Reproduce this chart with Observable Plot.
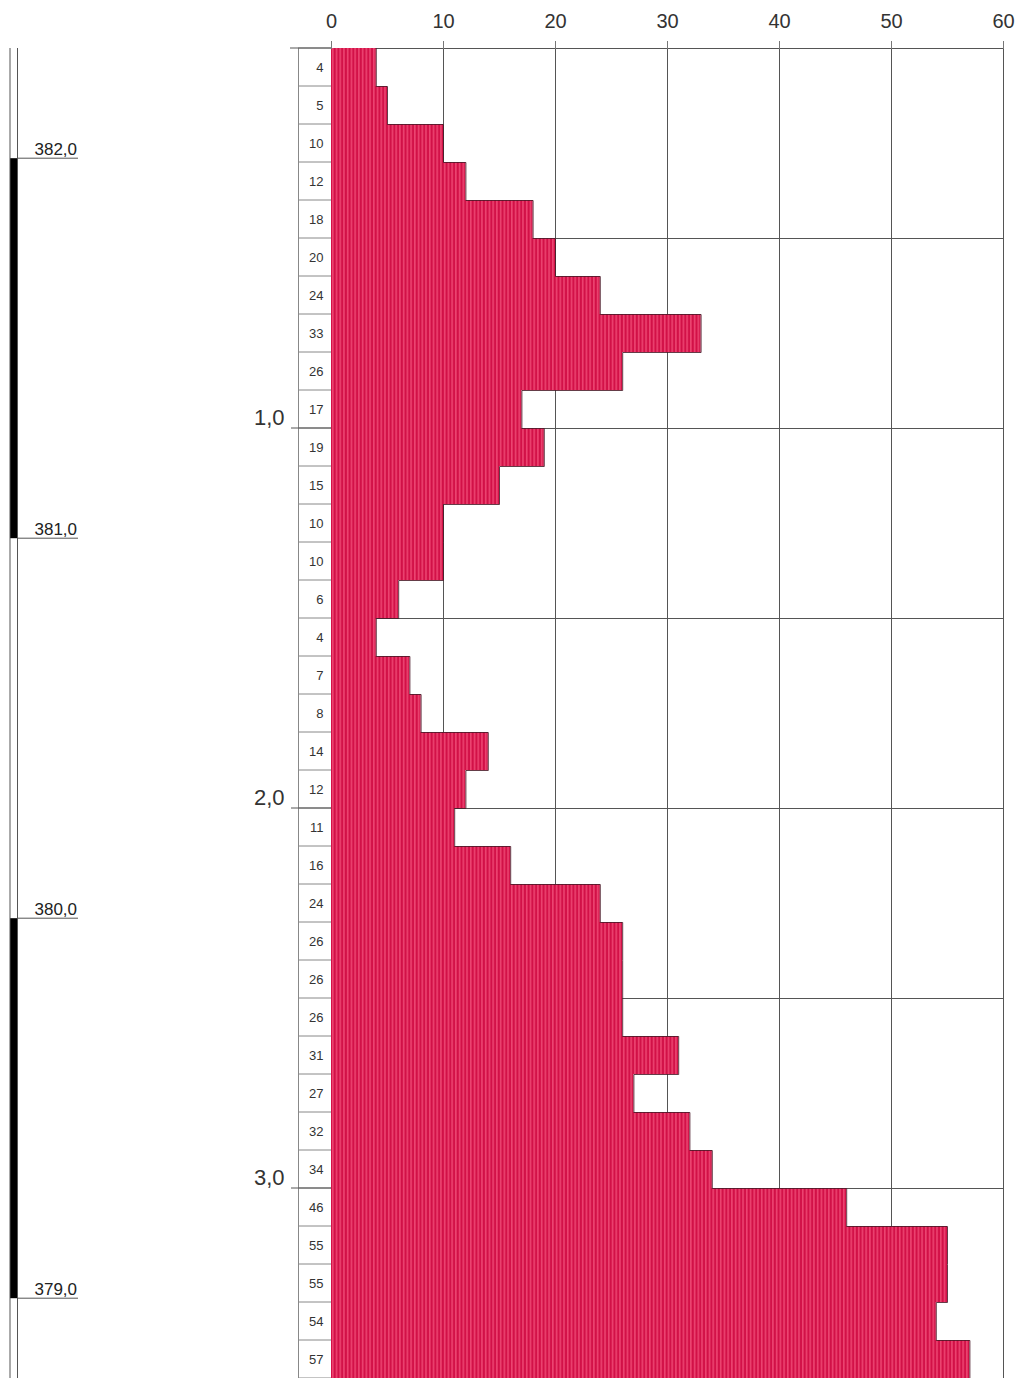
<!DOCTYPE html>
<html><head><meta charset="utf-8">
<script src="https://cdn.jsdelivr.net/npm/d3@7"></script>
<script src="https://cdn.jsdelivr.net/npm/@observablehq/plot@0.6"></script>
<style>
  html,body{margin:0;padding:0;background:#fff}
  #chart svg{display:block}
</style>
</head><body><div id="chart"></div>
<script>
// ---- data ----
const counts = [4,5,10,12,18,20,24,33,26,17,19,15,10,10,6,4,7,8,14,12,11,16,24,26,26,26,31,27,32,34,46,55,55,54,57];
const rowThickness = 0.1;               // metres per row
const xTicks = [0,10,20,30,40,50,60];
const gridDepths = [0.5,1.0,1.5,2.0,2.5,3.0];
const depthTicks = [1.0,2.0,3.0];
const depthTickLabels = ["1,0","2,0","3,0"];
const elevTicks = [382.0,381.0,380.0,379.0];
const elevTickLabels = ["382,0","381,0","380,0","379,0"];
const topElevation = 382.29;            // estimated ground elevation
const blackBands = [[382.0,381.0],[380.0,379.0]];

// ---- derived tables ----
const totalDepth = counts.length * rowThickness;
const rows = counts.map((v,i)=>({value:v, top:i*rowThickness, bottom:(i+1)*rowThickness, mid:(i+0.5)*rowThickness}));
const outline = rows.flatMap(r=>[{x:r.value,y:r.top},{x:r.value,y:r.bottom}]);
const rowBounds = d3.range(counts.length+1).map(i=>i*rowThickness);
const elevRows = elevTicks.map((e,i)=>({depth: topElevation - e, label: elevTickLabels[i]}));
const depthRows = depthTicks.map((d,i)=>({depth:d, label:depthTickLabels[i]}));

const FONT = "Liberation Sans, Arial, Helvetica, sans-serif";

// pattern definitions (vertical stripes)
function stripeDefs(){
  const defs = d3.create("svg:defs");
  const p = defs.append("pattern").attr("id","stripes")
    .attr("patternUnits","userSpaceOnUse").attr("width",3.73).attr("height",20);
  p.append("rect").attr("width",3.73).attr("height",20).attr("fill","#e2124c");
  p.append("rect").attr("x",0.4).attr("width",0.9).attr("height",20).attr("fill","#f06a8c");
  p.append("rect").attr("x",2.4).attr("width",0.7).attr("height",20).attr("fill","#b80e40");
  return defs.node();
}

// left-side decorations: elevation bar, label cells, depth ticks
function leftDecor(index, scales){
  const y = scales.y;
  const g = d3.create("svg:g").attr("fill","none");
  const y0 = y(0), y1 = y(totalDepth);
  for (const [a,b] of blackBands){
    g.append("rect").attr("x",10).attr("width",7.5)
      .attr("y",y(topElevation-a)).attr("height",y(topElevation-b)-y(topElevation-a))
      .attr("fill","#000");
  }
  for (const xx of [10,17.5]){
    g.append("line").attr("x1",xx).attr("x2",xx).attr("y1",y0).attr("y2",y1)
      .attr("stroke","#555").attr("stroke-width",1);
  }
  for (const e of elevRows){
    g.append("line").attr("x1",17.5).attr("x2",78).attr("y1",y(e.depth)).attr("y2",y(e.depth))
      .attr("stroke","#555").attr("stroke-width",1);
  }
  g.append("line").attr("x1",298.5).attr("x2",298.5).attr("y1",y0).attr("y2",y1)
    .attr("stroke","#888").attr("stroke-width",1);
  for (const b of rowBounds){
    g.append("line").attr("x1",298).attr("x2",331).attr("y1",y(b)).attr("y2",y(b))
      .attr("stroke","#888").attr("stroke-width",1);
  }
  for (const d of [0, ...depthTicks]){
    g.append("line").attr("x1",d===0?290:291).attr("x2",331).attr("y1",y(d)).attr("y2",y(d))
      .attr("stroke","#555").attr("stroke-width",1);
  }
  return g.node();
}

const chart = Plot.plot({
  width:1020, height:1378,
  marginTop:48, marginBottom:0, marginLeft:331, marginRight:17,
  style:{fontFamily:FONT, background:"#fff", color:"#333"},
  x:{domain:[0,60], axis:null},
  y:{domain:[0,totalDepth], reverse:true, axis:null},
  marks:[
    stripeDefs,
    Plot.ruleX(xTicks, {y1:0, y2:totalDepth, stroke:"#555", strokeWidth:1, strokeOpacity:1}),
    Plot.ruleY(gridDepths, {x1:0, x2:60, stroke:"#555", strokeWidth:1, strokeOpacity:1}),
    Plot.ruleY([0], {x1:0, x2:60, stroke:"#555", strokeWidth:1, strokeOpacity:1}),
    leftDecor,
    Plot.rect(rows, {x1:0, x2:"value", y1:"top", y2:"bottom", fill:"url(#stripes)"}),
    Plot.line(outline, {x:"x", y:"y", stroke:"#4a1a28", strokeWidth:1, strokeOpacity:0.85}),
    Plot.axisX(xTicks, {anchor:"top", tickSize:8, tickPadding:13, fontSize:20,
      tickFormat:d=>String(d), stroke:"#777", fill:"#333"}),
    Plot.text(rows, {x:0, y:"mid", text:d=>String(d.value), dx:-8, textAnchor:"end",
      fontSize:13, fill:"#333"}),
    Plot.text(depthRows, {x:0, y:"depth", text:"label", dx:-47, dy:-11, textAnchor:"end",
      fontSize:22, fill:"#333"}),
    Plot.text(elevRows, {x:0, y:"depth", text:"label", dx:-297, dy:-9, textAnchor:"start",
      fontSize:17, fill:"#222"})
  ]
});
document.getElementById("chart").appendChild(chart);
</script>
</body></html>
